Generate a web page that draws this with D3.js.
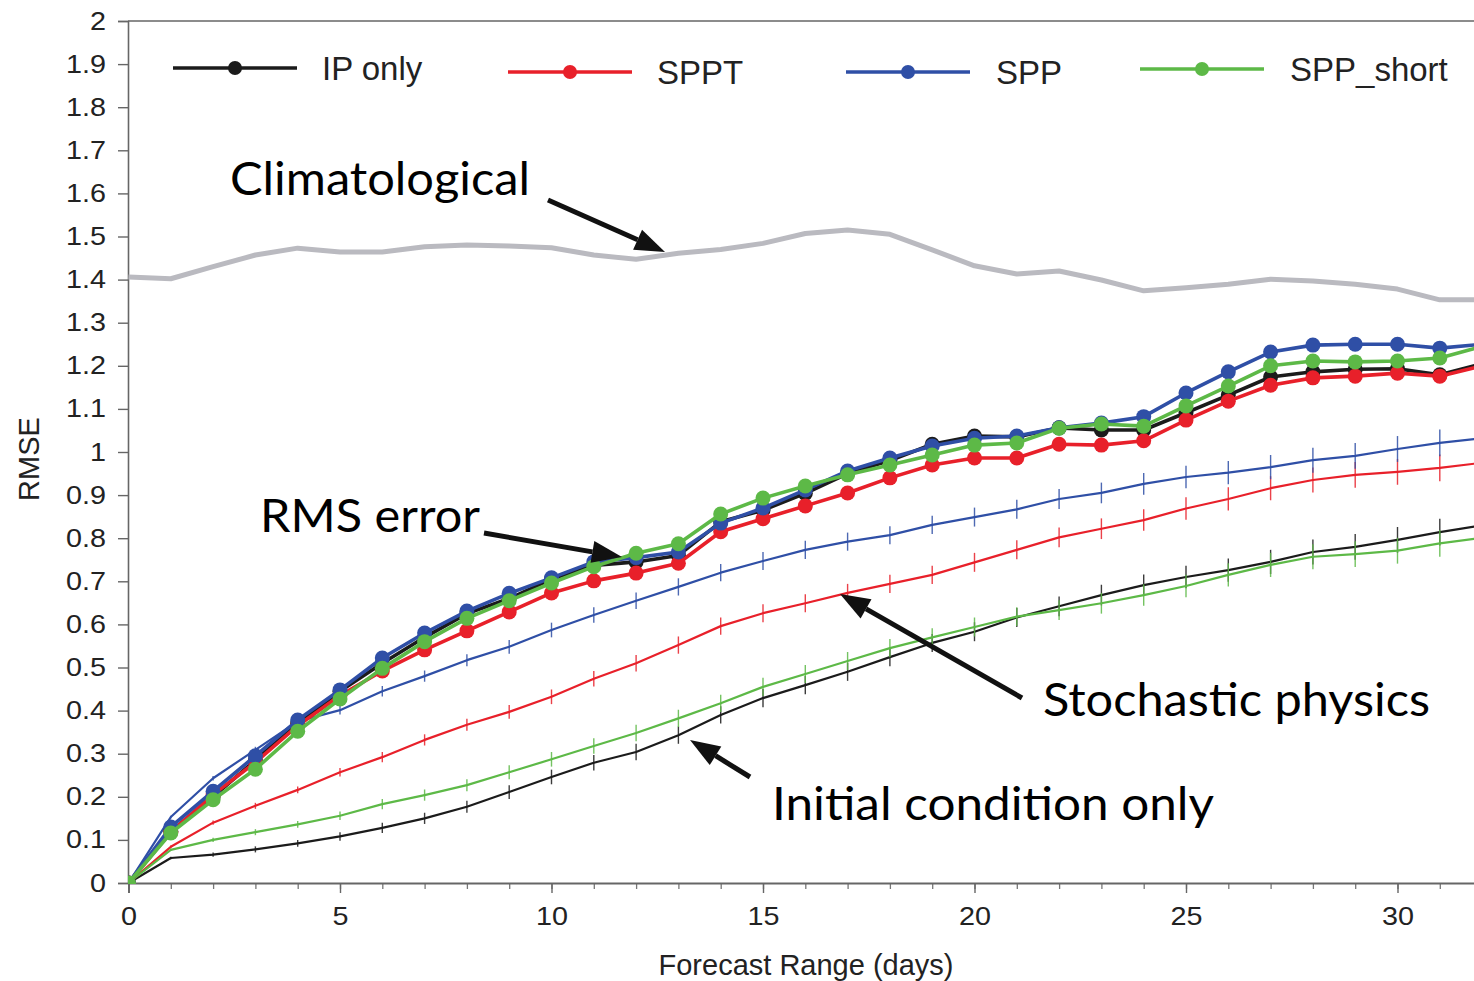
<!DOCTYPE html>
<html><head><meta charset="utf-8">
<script src="https://cdn.jsdelivr.net/npm/d3@7/dist/d3.min.js"></script>
<style>body{margin:0;background:#fff;overflow:hidden}</style>
</head><body>
<svg id="c" width="1474" height="981"></svg>
<script>
// ---------------- data ----------------
const days = [0,1,2,3,4,5,6,7,8,9,10,11,12,13,14,15,16,17,18,19,20,21,22,23,24,25,26,27,28,29,30,31,32];
const seriesNames = ["IP only","SPPT","SPP","SPP_short"];
const seriesColors = ["#1b1b1b","#e8202a","#2f4fa6","#5db947"];
const climatological = [1.406,1.402,1.43,1.457,1.473,1.464,1.464,1.476,1.48,1.478,1.474,1.457,1.447,1.461,1.47,1.484,1.507,1.515,1.505,1.469,1.432,1.413,1.42,1.399,1.374,1.381,1.389,1.401,1.397,1.389,1.378,1.353,1.353];
const rmsIP = [0,0.12,0.2,0.285,0.37,0.445,0.51,0.57,0.625,0.66,0.705,0.737,0.745,0.76,0.838,0.865,0.904,0.95,0.98,1.018,1.037,1.035,1.056,1.051,1.051,1.091,1.132,1.174,1.186,1.192,1.193,1.179,1.205];
const rmsSPPT = [0,0.118,0.205,0.28,0.365,0.435,0.492,0.541,0.585,0.629,0.673,0.701,0.719,0.742,0.815,0.845,0.875,0.905,0.94,0.97,0.986,0.986,1.018,1.016,1.026,1.074,1.118,1.155,1.172,1.176,1.183,1.176,1.2];
const rmsSPP = [0,0.13,0.213,0.295,0.378,0.448,0.522,0.58,0.631,0.672,0.708,0.745,0.755,0.768,0.835,0.87,0.912,0.956,0.986,1.014,1.032,1.037,1.056,1.067,1.082,1.137,1.186,1.232,1.248,1.25,1.25,1.241,1.25];
const rmsSPPshort = [0,0.116,0.193,0.264,0.352,0.427,0.498,0.56,0.614,0.655,0.696,0.734,0.765,0.787,0.856,0.893,0.921,0.947,0.97,0.993,1.016,1.021,1.055,1.065,1.06,1.107,1.153,1.2,1.211,1.209,1.211,1.218,1.245];
const spreadIP = [0,0.058,0.066,0.078,0.092,0.108,0.128,0.15,0.177,0.211,0.246,0.279,0.304,0.343,0.39,0.429,0.459,0.49,0.524,0.557,0.583,0.616,0.642,0.668,0.691,0.71,0.726,0.745,0.768,0.78,0.796,0.814,0.83];
const spreadSPPT = [0,0.084,0.14,0.179,0.216,0.257,0.292,0.332,0.367,0.397,0.432,0.474,0.51,0.552,0.596,0.626,0.649,0.673,0.694,0.715,0.744,0.773,0.802,0.822,0.842,0.869,0.891,0.916,0.935,0.947,0.954,0.963,0.975];
const spreadSPP = [0,0.153,0.243,0.309,0.375,0.401,0.445,0.48,0.517,0.548,0.587,0.622,0.655,0.687,0.72,0.747,0.773,0.792,0.807,0.831,0.849,0.867,0.891,0.905,0.926,0.942,0.952,0.965,0.981,0.991,1.007,1.021,1.032];
const spreadSPPshort = [0,0.077,0.1,0.118,0.136,0.156,0.183,0.204,0.227,0.257,0.287,0.318,0.348,0.382,0.417,0.455,0.485,0.515,0.545,0.57,0.594,0.618,0.633,0.649,0.668,0.689,0.715,0.738,0.757,0.763,0.771,0.788,0.801];
// half-height of the small vertical bars on the spread curves
const spreadBar = [0,0.003,0.005,0.007,0.008,0.01,0.012,0.013,0.014,0.016,0.017,0.018,0.019,0.02,0.02,0.021,0.021,0.021,0.021,0.021,0.022,0.022,0.023,0.024,0.025,0.026,0.027,0.028,0.029,0.03,0.03,0.031,0.031];
const yTicks = [0,0.1,0.2,0.3,0.4,0.5,0.6,0.7,0.8,0.9,1,1.1,1.2,1.3,1.4,1.5,1.6,1.7,1.8,1.9,2];
const xMajorTicks = [0,5,10,15,20,25,30];
const annotations = ["Climatological","RMS error","Stochastic physics","Initial condition only"];

const rmsSeries = [rmsIP, rmsSPPT, rmsSPP, rmsSPPshort];
const spreadSeries = [spreadIP, spreadSPPT, spreadSPP, spreadSPPshort];

// ---------------- layout ----------------
const svg = d3.select("#c");
const x = d3.scaleLinear().domain([0,32]).range([128.5, 128.5 + 32*42.3]);
const y = d3.scaleLinear().domain([0,2]).range([883, 21]);
const axisFont = "'Liberation Sans', Arial, Helvetica, sans-serif";
const annFont = "Lato, 'Open Sans', sans-serif";
const stretch = 1.15;

svg.append("defs").append("clipPath").attr("id","plot")
  .append("rect").attr("x",128).attr("y",0).attr("width",1400).attr("height",884);

// frame top line
svg.append("line").attr("x1",128).attr("x2",1474).attr("y1",y(2)).attr("y2",y(2))
  .attr("stroke","#666").attr("stroke-width",1.6);

// y axis
const yAxis = d3.axisLeft(y).tickValues(yTicks).tickSize(10).tickPadding(12)
  .tickFormat(d => d3.format("~g")(d));
const gy = svg.append("g").attr("transform","translate(128,0)").call(yAxis);
gy.select(".domain").attr("stroke","#666").attr("stroke-width",1.6);
gy.selectAll(".tick line").attr("stroke","#666").attr("stroke-width",1.4);
gy.selectAll(".tick text").attr("font-family",axisFont).attr("font-size",25).attr("fill","#222")
  .attr("x",-22/stretch).attr("transform",`scale(${stretch},1)`);

// x axis minor + major
const xMinor = d3.axisBottom(x).tickValues(days).tickSize(6).tickFormat("");
const gxm = svg.append("g").attr("transform","translate(0,883)").call(xMinor);
gxm.select(".domain").remove();
gxm.selectAll(".tick line").attr("stroke","#777").attr("stroke-width",1.3);
const xAxis = d3.axisBottom(x).tickValues(xMajorTicks).tickSize(10).tickPadding(14);
const gx = svg.append("g").attr("transform","translate(0,883)").call(xAxis);
gx.select(".domain").attr("stroke","#666").attr("stroke-width",1.8);
gx.selectAll(".tick line").attr("stroke","#666").attr("stroke-width",1.4);
gx.selectAll(".tick text").attr("font-family",axisFont).attr("font-size",25).attr("fill","#222")
  .attr("transform",`scale(${stretch},1)`);

// axis titles
svg.append("text").attr("x",806).attr("y",975).attr("text-anchor","middle")
  .attr("font-family",axisFont).attr("font-size",29).attr("fill","#222").text("Forecast Range (days)");
svg.append("text").attr("transform","translate(39,459) rotate(-90)").attr("text-anchor","middle")
  .attr("font-family",axisFont).attr("font-size",29).attr("fill","#222").text("RMSE");

const plot = svg.append("g").attr("clip-path","url(#plot)");
const line = d3.line().x((d,i) => x(days[i])).y(d => y(d));

// climatological
plot.append("path").datum(climatological).attr("d",line)
  .attr("fill","none").attr("stroke","#babac0").attr("stroke-width",5).attr("stroke-linejoin","round");

// spread curves with small vertical bars
spreadSeries.forEach((s,k) => {
  const g = plot.append("g");
  g.selectAll("line").data(s).join("line")
    .attr("x1",(d,i)=>x(days[i])).attr("x2",(d,i)=>x(days[i]))
    .attr("y1",(d,i)=>y(d - spreadBar[i])).attr("y2",(d,i)=>y(d + spreadBar[i]))
    .attr("stroke",seriesColors[k]).attr("stroke-width",1.4).attr("opacity",0.85);
  g.append("path").datum(s).attr("d",line).attr("fill","none")
    .attr("stroke",seriesColors[k]).attr("stroke-width",2.2).attr("stroke-linejoin","round");
});

// RMS curves with markers
rmsSeries.forEach((s,k) => {
  const g = plot.append("g");
  g.append("path").datum(s).attr("d",line).attr("fill","none")
    .attr("stroke",seriesColors[k]).attr("stroke-width",3.6).attr("stroke-linejoin","round");
  g.selectAll("circle").data(s).join("circle")
    .attr("cx",(d,i)=>x(days[i])).attr("cy",d=>y(d)).attr("r",7.5)
    .attr("fill",seriesColors[k]);
});

// legend
const legX = [173, 508, 846, 1140];
const legY = [68, 72, 72, 69];
const legTextX = [322, 657, 996, 1290];
seriesNames.forEach((n,k) => {
  svg.append("line").attr("x1",legX[k]).attr("x2",legX[k]+124).attr("y1",legY[k]).attr("y2",legY[k])
    .attr("stroke",seriesColors[k]).attr("stroke-width",3.6);
  svg.append("circle").attr("cx",legX[k]+62).attr("cy",legY[k]).attr("r",7).attr("fill",seriesColors[k]);
  svg.append("text").attr("x",legTextX[k]).attr("y",legY[k]+12)
    .attr("font-family",axisFont).attr("font-size",33).attr("fill","#222").text(n);
});

// annotations
const annPos = [[230,195,300],[260,532,220],[1043,716,387],[772,820,442]];
annotations.forEach((t,k) => {
  svg.append("text").attr("x",annPos[k][0]).attr("y",annPos[k][1])
    .attr("font-family",annFont).attr("font-size",46).attr("fill","#000")
    .attr("textLength",annPos[k][2]).attr("lengthAdjust","spacingAndGlyphs").text(t);
});

// arrows
const arrows = [[[548,200],[665,252]],[[484,533],[622,557]],[[1022,698],[840,594]],[[750,777],[690,740]]];
arrows.forEach(([a,b]) => {
  const ang = Math.atan2(b[1]-a[1], b[0]-a[0]);
  const L = 30, W = 11;
  const bx = b[0] - L*Math.cos(ang), by = b[1] - L*Math.sin(ang);
  svg.append("line").attr("x1",a[0]).attr("y1",a[1]).attr("x2",bx).attr("y2",by)
    .attr("stroke","#111").attr("stroke-width",5);
  const p1 = [bx + W*Math.sin(ang), by - W*Math.cos(ang)];
  const p2 = [bx - W*Math.sin(ang), by + W*Math.cos(ang)];
  svg.append("path").attr("d",`M${b[0]},${b[1]}L${p1[0]},${p1[1]}L${p2[0]},${p2[1]}Z`).attr("fill","#111");
});
</script>
</body></html>
